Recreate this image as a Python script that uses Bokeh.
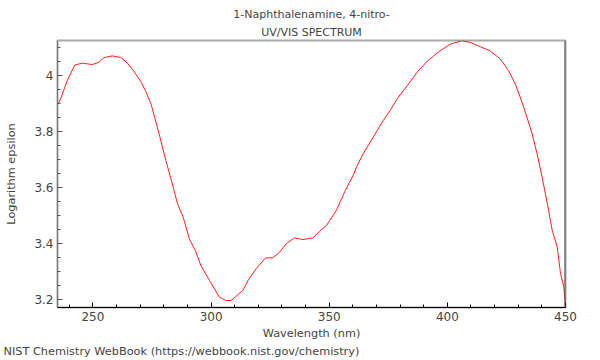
from bokeh.plotting import figure
from bokeh.models import (Range1d, SingleIntervalTicker, CustomJSTickFormatter, Title, Span)
from bokeh.embed import file_html
from bokeh.resources import INLINE

wavelength = [235, 236.3, 239.1, 242.3, 245.4, 249.7, 252.5, 254.7, 258.2, 261.8,
              264.6, 267.4, 270.2, 272.4, 274.7, 276.3, 278.3, 280.9, 283.4, 285.8,
              288.2, 290.8, 293.6, 295.7, 299.3, 303.5, 306.3, 308.5, 313.4, 315.8,
              319.1, 323.0, 326.1, 329.0, 331.8, 335.3, 338.9, 343.1, 346.0, 348.8,
              350.2, 353.0, 356.6, 360.5, 361.5, 364.3, 368.6, 372.8, 375.7, 379.2,
              383.5, 387.7, 392.0, 396.9, 401.2, 406.1, 409.7, 413.9, 418.1, 422.4,
              425.9, 428.8, 431.6, 433.7, 435.9, 438.0, 440.1, 442.2, 444.4, 446.5,
              447.9, 449.3, 450.0]
log_epsilon = [3.896, 3.917, 3.982, 4.038, 4.045, 4.040, 4.048, 4.065, 4.071, 4.065,
               4.045, 4.015, 3.980, 3.943, 3.896, 3.845, 3.782, 3.696, 3.619, 3.542,
               3.494, 3.417, 3.369, 3.321, 3.268, 3.208, 3.196, 3.196, 3.232, 3.270,
               3.310, 3.348, 3.349, 3.369, 3.399, 3.420, 3.414, 3.420, 3.444, 3.464,
               3.482, 3.518, 3.586, 3.650, 3.673, 3.720, 3.780, 3.839, 3.875, 3.923,
               3.970, 4.018, 4.056, 4.089, 4.113, 4.125, 4.119, 4.104, 4.089, 4.060,
               4.018, 3.970, 3.905, 3.851, 3.792, 3.720, 3.637, 3.548, 3.446, 3.387,
               3.292, 3.244, 3.172]

title1 = "1-Naphthalenamine, 4-nitro-"
title2 = "UV/VIS SPECTRUM"
x_label = "Wavelength (nm)"
y_label = "Logarithm epsilon"
footer = "NIST Chemistry WebBook (https://webbook.nist.gov/chemistry)"

FONT = "DejaVu Sans"

p = figure(width=600, height=360, output_backend="svg", toolbar_location=None,
           x_range=Range1d(235, 450), y_range=Range1d(3.171, 4.126),
           min_border_left=57, min_border_right=35, min_border_top=40,
           min_border_bottom=53)
p.title = None
p.background_fill_color = "white"
p.border_fill_color = "white"
p.grid.visible = False
p.outline_line_color = "#aaaaaa"
p.outline_line_width = 2

p.line(wavelength, log_epsilon, line_color="#ff2020", line_width=1)

p.add_layout(Span(location=450, dimension="height", line_color="#555555", line_width=2))

t2 = Title(text=title2, align="center", text_font=FONT, text_font_size="11px",
           text_font_style="normal", standoff=3, offset=0)
t1 = Title(text=title1, align="center", text_font=FONT, text_font_size="11px",
           text_font_style="normal", standoff=3, offset=0)
p.add_layout(t2, "above")
p.add_layout(t1, "above")

xa = p.xaxis[0]
xa.ticker = SingleIntervalTicker(interval=50, num_minor_ticks=5)
ya = p.yaxis[0]
ya.ticker = SingleIntervalTicker(interval=0.2, num_minor_ticks=4)
ya.formatter = CustomJSTickFormatter(code="return tick.toFixed(1).replace(/\\.0$/, '');")

for ax in (xa, ya):
    ax.major_tick_in = 5
    ax.major_tick_out = 0
    ax.minor_tick_in = 3
    ax.minor_tick_out = 0
    ax.major_label_text_font = FONT
    ax.major_label_text_font_size = "12px"
    ax.axis_label_text_font = FONT
    ax.axis_label_text_font_size = "11.3px"
    ax.axis_label_text_font_style = "normal"
    ax.major_label_standoff = 4

xa.axis_label = x_label
xa.axis_label_standoff = 3
xa.axis_line_color = "black"
xa.major_tick_line_color = "black"
xa.minor_tick_line_color = "black"
ya.axis_label = y_label
ya.axis_label_standoff = 13
ya.axis_line_color = "#777777"
ya.major_tick_line_color = "#555555"
ya.minor_tick_line_color = "#555555"

foot = Title(text=footer, align="left", text_font=FONT, text_font_size="11.3px",
             text_font_style="normal", standoff=0, offset=-54)
p.add_layout(foot, "below")

open("out.html", "w").write(file_html(p, INLINE))
